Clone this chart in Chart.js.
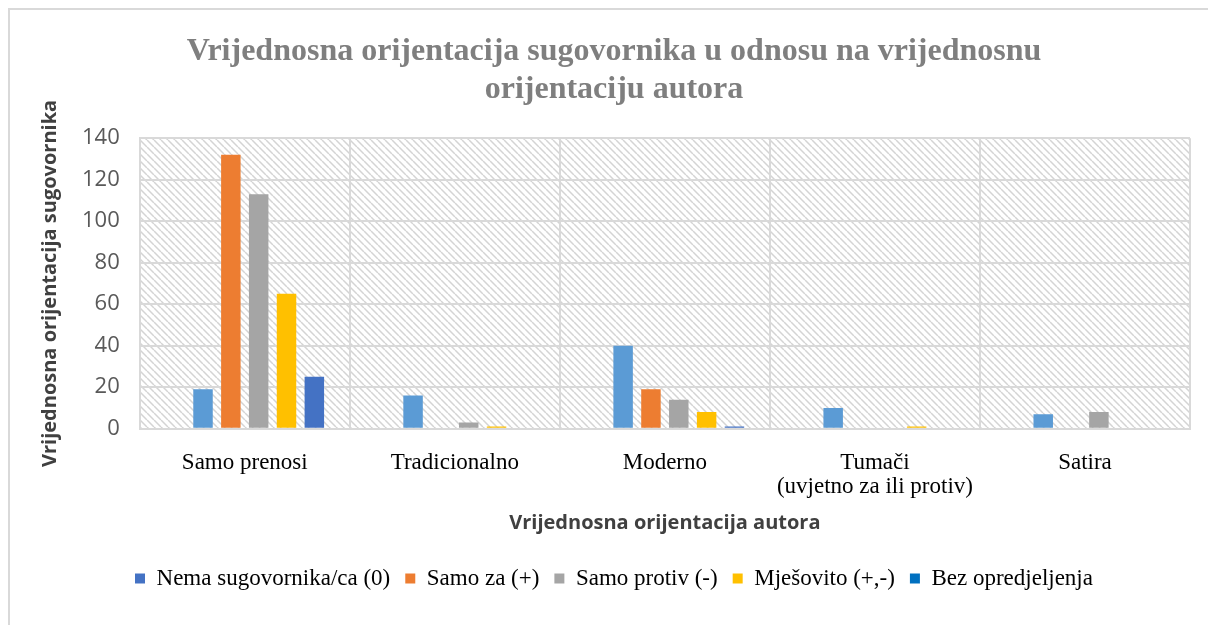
<!DOCTYPE html>
<html>
<head>
<meta charset="utf-8">
<script src="https://cdn.jsdelivr.net/npm/chart.js@4/dist/chart.umd.min.js"></script>
<style>
  html, body { margin: 0; padding: 0; background: #fff; }
  #wrap { position: relative; width: 1208px; height: 625px; }
  #frame { position: absolute; left: 8px; top: 8px; right: -4px; bottom: -4px;
           border-left: 2px solid #d9d9d9; border-top: 2px solid #d9d9d9; }
  canvas { position: absolute; left: 0; top: 0; }
</style>
</head>
<body>
<div id="wrap">
  <div id="frame"></div>
  <canvas id="chart" width="1208" height="625"></canvas>
</div>
<script>
// Categories and series
var categories = ['Samo prenosi', 'Tradicionalno', 'Moderno', ['Tumači', '(uvjetno za ili protiv)'], 'Satira'];
var spacer     = [0, 0, 0, 0, 0];
var nema       = [19, 16, 40, 10, 7];
var samoZa     = [132, 0, 19, 0, 0];
var samoProtiv = [113, 3, 14, 0, 8];
var mjesovito  = [65, 1, 8, 1, 0];
var bez        = [25, 0, 1, 0, 0];
var seriesNames = ['Nema sugovornika/ca (0)', 'Samo za (+)', 'Samo protiv (-)', 'Mješovito (+,-)', 'Bez opredjeljenja'];
var legendColors = ['#4472C4', '#ED7D31', '#A5A5A5', '#FFC000', '#0070C0'];

// Diagonal hatch behind the plot area
var hatchBg = {
	id: 'hatchBg',
	beforeDraw: function (chart) {
		var a = chart.chartArea, ctx = chart.ctx;
		var s = 7;
		var tile = document.createElement('canvas');
		tile.width = s; tile.height = s;
		var t = tile.getContext('2d');
		t.strokeStyle = '#d4d4d4';
		t.lineWidth = 1.5;
		t.beginPath();
		[-s, 0, s].forEach(function (x) {
			t.moveTo(x, 0);
			t.lineTo(x + s, s);
		});
		t.stroke();
		ctx.save();
		ctx.fillStyle = ctx.createPattern(tile, 'repeat');
		ctx.fillRect(a.left, a.top, a.right - a.left, a.bottom - a.top);
		ctx.restore();
	}
};

var serif = "'Liberation Serif', 'Times New Roman', serif";
var sans = "'Open Sans', 'Noto Sans', sans-serif";

new Chart(document.getElementById('chart'), {
	type: 'bar',
	plugins: [hatchBg],
	data: {
		labels: categories,
		datasets: [
			{ label: '', data: spacer, backgroundColor: '#ffffff' },
			{ label: seriesNames[0], data: nema, backgroundColor: '#5B9BD5' },
			{ label: seriesNames[1], data: samoZa, backgroundColor: '#ED7D31' },
			{ label: seriesNames[2], data: samoProtiv, backgroundColor: '#A5A5A5' },
			{ label: seriesNames[3], data: mjesovito, backgroundColor: '#FFC000' },
			{ label: seriesNames[4], data: bez, backgroundColor: '#4472C4' }
		]
	},
	options: {
		responsive: false,
		animation: false,
		layout: { padding: { left: 38, right: 18, top: 0, bottom: 25 } },
		datasets: { bar: { categoryPercentage: 0.795, barPercentage: 0.7, borderWidth: 0 } },
		plugins: {
			tooltip: { enabled: false },
			title: {
				display: true,
				text: ['Vrijednosna orijentacija sugovornika u odnosu na vrijednosnu', 'orijentaciju autora'],
				color: '#7f7f7f',
				font: { family: serif, size: 32, weight: 'bold', lineHeight: 1.19 },
				padding: { top: 33, bottom: 29 }
			},
			legend: {
				position: 'bottom',
				labels: {
					color: '#000',
					font: { family: serif, size: 23 },
					boxWidth: 10,
					boxHeight: 10,
					padding: 15,
					filter: function (item) { return item.text !== ''; },
					generateLabels: function (chart) {
						var items = Chart.defaults.plugins.legend.labels.generateLabels(chart);
						items.forEach(function (it) {
							var i = seriesNames.indexOf(it.text);
							if (i >= 0) { it.fillStyle = legendColors[i]; }
							it.lineWidth = 0;
						});
						return items;
					}
				}
			}
		},
		scales: {
			x: {
				grid: { color: '#d9d9d9', lineWidth: 2, drawTicks: false },
				border: { color: '#d9d9d9', width: 2 },
				ticks: {
					color: '#000',
					font: { family: serif, size: 23, lineHeight: 1.05 },
					padding: 22,
					maxRotation: 0,
					autoSkip: false
				},
				title: {
					display: true,
					text: 'Vrijednosna orijentacija autora',
					color: '#404040',
					font: { family: sans, size: 20, weight: 'bold' },
					padding: { top: -10, bottom: 17 }
				}
			},
			y: {
				min: 0,
				max: 140,
				grid: { color: '#d9d9d9', lineWidth: 2, drawTicks: false },
				border: { color: '#d9d9d9', width: 2 },
				ticks: { stepSize: 20, color: '#595959', font: { family: sans, size: 22 }, padding: 20 },
				title: {
					display: true,
					text: 'Vrijednosna orijentacija sugovornika',
					color: '#404040',
					font: { family: sans, size: 20, weight: 'bold' },
					padding: { top: 0, bottom: 0 }
				}
			}
		}
	}
});
</script>
</body>
</html>
